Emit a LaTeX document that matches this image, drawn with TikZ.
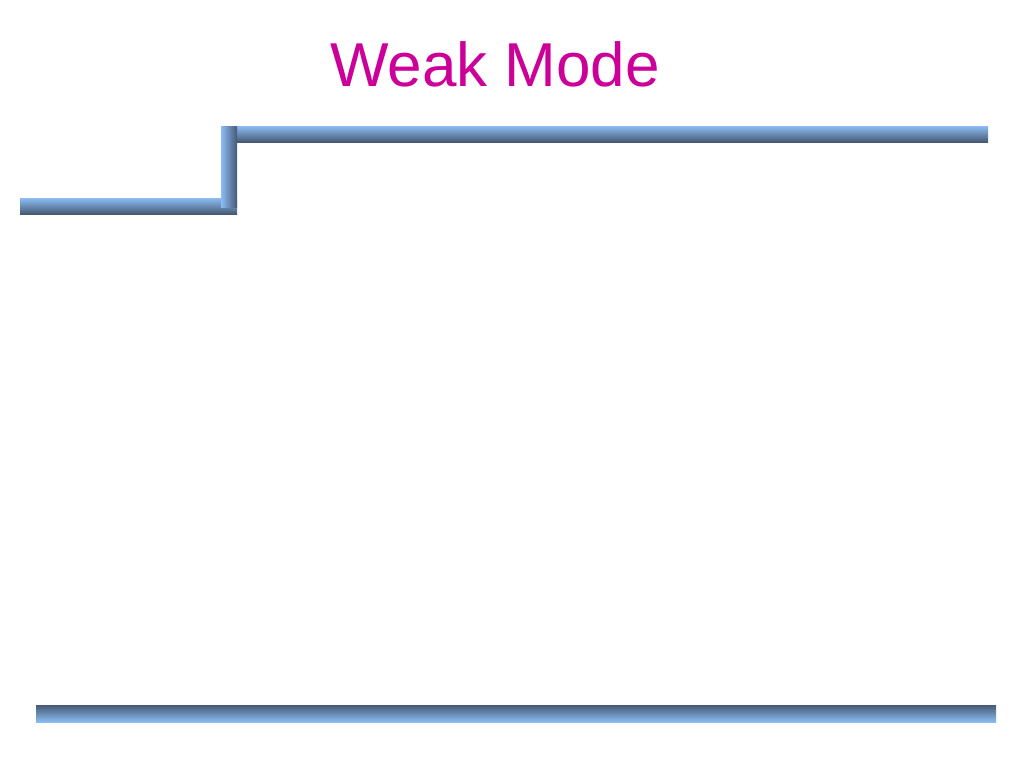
\documentclass[tikz,border=0pt]{standalone}
\usepackage{fontspec}
\setmainfont{Liberation Sans}
\usepackage{tikz}
\usetikzlibrary{shadings, positioning}
\definecolor{titlemagenta}{HTML}{CC0099}
\definecolor{barlight}{HTML}{8CBCF4}
\definecolor{bardark}{HTML}{465A74}
\tikzset{
    hbar/.style = {top color=barlight, bottom color=bardark, draw=none},
    hbarflip/.style = {top color=bardark, bottom color=barlight, draw=none},
    vbar/.style = {left color=barlight, right color=bardark, draw=none},
    titletext/.style = {text=titlemagenta, font=\fontsize{62}{70}\selectfont, inner sep=0pt}
}
\begin{document}
\begin{tikzpicture}[x=1pt, y=-1pt]
  \useasboundingbox (0,0) rectangle (1024,768);

  \node[titletext, anchor=base] (title) at (495,86) {Weak Mode};

  % horizontal bars
  \shade[hbar] (20,198) rectangle (237,214);
  \shade[hbar] (221,126) rectangle (988,142);
  \shade[hbarflip] (36,705) rectangle (996,722);
  % vertical step
  \shade[vbar] (221,126) rectangle (237,207);
\end{tikzpicture}
\end{document}
